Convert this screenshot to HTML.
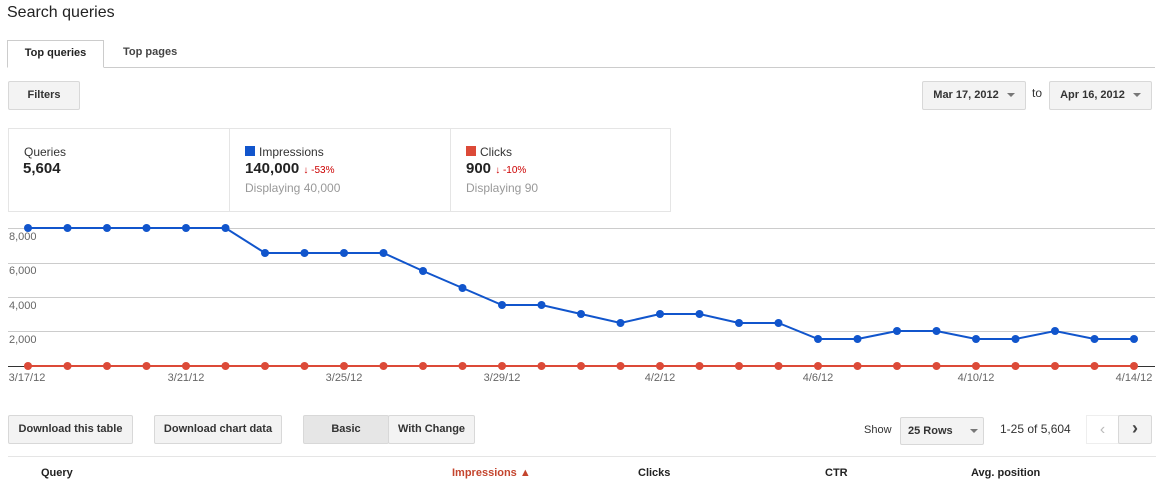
<!DOCTYPE html>
<html><head><meta charset="utf-8"><style>
body{margin:0;width:1164px;height:484px;background:#fff;font-family:"Liberation Sans",Arial,sans-serif;position:relative;overflow:hidden}
.a{position:absolute}
.btn{position:absolute;background:#f3f3f3;border:1px solid #d8d8d8;border-radius:2px;font-size:11px;font-weight:bold;color:#333;text-align:center;box-sizing:border-box}
.arr{display:inline-block;width:0;height:0;border-left:4px solid transparent;border-right:4px solid transparent;border-top:4px solid #777;vertical-align:middle;margin-left:8px}
</style></head><body>
<div class="a" style="left:7px;top:4px;font-size:16px;color:#222">Search queries</div>
<div class="a" style="left:7px;top:67px;width:1148px;border-top:1px solid #ccc"></div>
<div class="a" style="left:7px;top:40px;width:97px;height:28px;border:1px solid #ccc;border-bottom:1px solid #fff;background:#fff;box-sizing:border-box;font-size:11px;font-weight:bold;text-align:center;line-height:24px;color:#222">Top queries</div>
<div class="a" style="left:123px;top:46px;font-size:11px;font-weight:bold;color:#444">Top pages</div>
<div class="btn" style="left:8px;top:81px;width:72px;height:29px;line-height:27px">Filters</div>
<div class="btn" style="left:922px;top:81px;width:104px;height:29px;line-height:27px">Mar 17, 2012<span class="arr"></span></div>
<div class="a" style="left:1032px;top:86px;font-size:12px;color:#333">to</div>
<div class="btn" style="left:1049px;top:81px;width:103px;height:29px;line-height:27px">Apr 16, 2012<span class="arr"></span></div>
<div class="a" style="left:8px;top:128px;width:663px;height:84px;border:1px solid #e5e5e5;box-sizing:border-box"></div>
<div class="a" style="left:229px;top:128px;height:84px;border-left:1px solid #e5e5e5"></div>
<div class="a" style="left:450px;top:128px;height:84px;border-left:1px solid #e5e5e5"></div>
<div class="a" style="left:24px;top:145px;font-size:12px;color:#333">Queries</div>
<div class="a" style="left:23px;top:160px;font-size:15px;font-weight:bold;color:#222">5,604</div>
<div class="a" style="left:245px;top:146px;width:10px;height:10px;background:#1155cc"></div>
<div class="a" style="left:259px;top:145px;font-size:12px;color:#333">Impressions</div>
<div class="a" style="left:245px;top:160px;font-size:15px;font-weight:bold;color:#222">140,000 <span style="font-size:10px;font-weight:normal;color:#c00">&#8595; -53%</span></div>
<div class="a" style="left:245px;top:181px;font-size:12px;color:#999">Displaying 40,000</div>
<div class="a" style="left:466px;top:146px;width:10px;height:10px;background:#dc4a38"></div>
<div class="a" style="left:480px;top:145px;font-size:12px;color:#333">Clicks</div>
<div class="a" style="left:466px;top:160px;font-size:15px;font-weight:bold;color:#222">900 <span style="font-size:10px;font-weight:normal;color:#c00">&#8595; -10%</span></div>
<div class="a" style="left:466px;top:181px;font-size:12px;color:#999">Displaying 90</div>
<svg class="a" style="left:0;top:0" width="1164" height="400">
<g stroke="#ccc" stroke-width="1">
<line x1="8" x2="1155" y1="228.5" y2="228.5"/><line x1="8" x2="1155" y1="263.5" y2="263.5"/><line x1="8" x2="1155" y1="297.5" y2="297.5"/><line x1="8" x2="1155" y1="331.5" y2="331.5"/>
</g>
<line x1="8" x2="1155" y1="366.5" y2="366.5" stroke="#333"/>
<g font-size="11" fill="#666" font-family="Liberation Sans,Arial,sans-serif">
<text x="9" y="240">8,000</text><text x="9" y="274">6,000</text><text x="9" y="309">4,000</text><text x="9" y="343">2,000</text>
<g text-anchor="middle"><text x="27" y="381">3/17/12</text><text x="186" y="381">3/21/12</text><text x="344" y="381">3/25/12</text><text x="502" y="381">3/29/12</text><text x="660" y="381">4/2/12</text><text x="818" y="381">4/6/12</text><text x="976" y="381">4/10/12</text><text x="1134" y="381">4/14/12</text></g>
</g>
<g id="g"></g>
</svg>
<script>
var ys=[228,228,228,228,228,228,253,253,253,253,271,288,305,305,314,323,314,314,323,323,339,339,331,331,339,339,331,339,339];
var s='',pb='',pr='';
for(var i=0;i<29;i++){var x=28+i*39.5;pb+=(i?'L':'M')+x+' '+ys[i];pr+=(i?'L':'M')+x+' 366';}
s+='<path d="'+pr+'" stroke="#dc4a38" stroke-width="2" fill="none"/><path d="'+pb+'" stroke="#1155cc" stroke-width="2" fill="none"/>';
for(var i=0;i<29;i++){var x=28+i*39.5;s+='<circle cx="'+x+'" cy="366" r="4" fill="#dc4a38"/><circle cx="'+x+'" cy="'+ys[i]+'" r="4" fill="#1155cc"/>';}
document.getElementById('g').innerHTML=s;
</script>
<div class="btn" style="left:8px;top:415px;width:125px;height:29px;line-height:27px">Download this table</div>
<div class="btn" style="left:154px;top:415px;width:128px;height:29px;line-height:27px">Download chart data</div>
<div class="btn" style="left:303px;top:415px;width:86px;height:29px;line-height:27px;background:#e6e6e6">Basic</div>
<div class="btn" style="left:388px;top:415px;width:87px;height:29px;line-height:27px">With Change</div>
<div class="a" style="left:864px;top:424px;font-size:11px;color:#333">Show</div>
<div class="btn" style="left:900px;top:417px;width:84px;height:28px;line-height:26px;text-align:left;padding-left:7px">25 Rows<span class="arr" style="margin-left:17px"></span></div>
<div class="a" style="left:1000px;top:422px;font-size:12px;color:#333">1-25 of 5,604</div>
<div class="a" style="left:1086px;top:415px;width:33px;height:29px;border:1px solid #eee;box-sizing:border-box;color:#bbb;text-align:center;line-height:27px;font-size:16px">&#8249;</div>
<div class="btn" style="left:1118px;top:415px;width:34px;height:29px;line-height:25px;font-size:18px;color:#444">&#8250;</div>
<div class="a" style="left:8px;top:456px;width:1148px;border-top:1px solid #e5e5e5"></div>
<div class="a" style="left:41px;top:467px;font-size:11px;font-weight:bold;color:#222">Query</div>
<div class="a" style="left:452px;top:467px;font-size:11px;font-weight:bold;color:#c4452e">Impressions &#9650;</div>
<div class="a" style="left:638px;top:467px;font-size:11px;font-weight:bold;color:#222">Clicks</div>
<div class="a" style="left:825px;top:467px;font-size:11px;font-weight:bold;color:#222">CTR</div>
<div class="a" style="left:971px;top:467px;font-size:11px;font-weight:bold;color:#222">Avg. position</div>
</body></html>
